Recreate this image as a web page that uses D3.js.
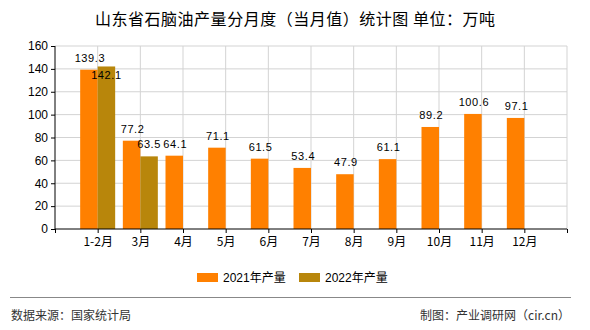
<!DOCTYPE html>
<html><head><meta charset="utf-8">
<script src="https://cdn.jsdelivr.net/npm/d3@7"></script>
<style>body{margin:0;background:#fff}svg{display:block}</style>
</head><body>
<script>
const categories = ["1-2月","3月","4月","5月","6月","7月","8月","9月","10月","11月","12月"];
const values2021 = [139.3,77.2,64.1,71.1,61.5,53.4,47.9,61.1,89.2,100.6,97.1];
const values2022 = [142.1,63.5,null,null,null,null,null,null,null,null,null];
const seriesNames = ["2021年产量","2022年产量"];
const yTicks = [0,20,40,60,80,100,120,140,160];
const colors = ["#FF8000","#B8860B"];

(function(){
const W=590,H=330;
const svg=d3.select("body").append("svg").attr("width",W).attr("height",H);
const pL=55,pR=567,pT=46,pB=229;
const x=d3.scaleLinear().domain([0,categories.length+1]).range([pL,pR]);
const y=d3.scaleLinear().domain([0,160]).range([pB,pT]);
const bw=17.5;
const grid="#d3d3d3";

svg.append("text").attr("x",95).attr("y",24.5).attr("font-family","'Noto Sans CJK SC',sans-serif")
  .attr("font-size",16).attr("fill","#000").attr("textLength",400).attr("lengthAdjust","spacing")
  .text("山东省石脑油产量分月度（当月值）统计图 单位：万吨");

svg.append("g").selectAll("line").data(yTicks.filter(d=>d>0)).join("line")
  .attr("x1",pL).attr("x2",pR).attr("y1",d=>y(d)).attr("y2",d=>y(d)).attr("stroke",grid);
svg.append("g").selectAll("line").data(d3.range(1,categories.length+2)).join("line")
  .attr("x1",d=>x(d)).attr("x2",d=>x(d)).attr("y1",pT).attr("y2",pB).attr("stroke",grid);

const g=svg.append("g");
categories.forEach((c,i)=>{
  const xc=x(i+1);
  const a=values2021[i], b=values2022[i];
  if(a!=null) g.append("rect").attr("x",xc-bw).attr("y",y(a)).attr("width",bw).attr("height",y(0)-y(a)).attr("fill",colors[0]);
  if(b!=null) g.append("rect").attr("x",xc).attr("y",y(b)).attr("width",bw).attr("height",y(0)-y(b)).attr("fill",colors[1]);
});

const yAxis=d3.axisLeft(y).tickValues(yTicks).tickSize(4).tickPadding(3);
const ya=svg.append("g").attr("transform",`translate(${pL},0)`).call(yAxis);
ya.select(".domain").attr("d",`M0,${pT}V${pB}`).attr("stroke","#000");
ya.selectAll("text").attr("font-family","'Liberation Sans',Arial,sans-serif").attr("font-size",12).attr("fill","#000");
ya.selectAll(".tick line").attr("stroke","#000");

const xAxis=d3.axisBottom(x).tickValues(d3.range(0,categories.length+2)).tickSize(4).tickPadding(4)
  .tickFormat(d=>(d>=1&&d<=categories.length)?categories[d-1]:"");
const xa=svg.append("g").attr("transform",`translate(0,${pB})`).call(xAxis);
xa.select(".domain").attr("d",`M${pL},0H${pR}`).attr("stroke","#000");
xa.selectAll(".tick line").attr("stroke","#000");
xa.selectAll("text").attr("font-family","'Noto Sans CJK SC',sans-serif").attr("font-size",12).attr("fill","#000");

const lab=svg.append("g").attr("font-family","'Liberation Sans',Arial,sans-serif").attr("font-size",11)
  .attr("fill","#000").attr("text-anchor","middle").attr("letter-spacing","0.6");
categories.forEach((c,i)=>{
  const xc=x(i+1);
  const a=values2021[i], b=values2022[i];
  let ay=null;
  if(a!=null){ay=y(a)-8; lab.append("text").attr("x",xc-bw/2+1).attr("y",ay).text(a.toFixed(1));}
  if(b!=null){
    let by=y(b)-8;
    if(ay!=null && Math.abs(by-ay)<12) by=y(b)+13;
    lab.append("text").attr("x",xc+bw/2).attr("y",by).text(b.toFixed(1));
  }
});

const lg=svg.append("g").attr("font-family","'Liberation Sans','Noto Sans CJK SC',sans-serif").attr("font-size",12);
const lx=[197,299];
seriesNames.forEach((n,i)=>{
  lg.append("rect").attr("x",lx[i]).attr("y",273).attr("width",21).attr("height",9).attr("fill",colors[i]);
  lg.append("text").attr("x",lx[i]+26).attr("y",282).attr("fill","#000").text(n);
});

svg.append("line").attr("x1",10).attr("x2",571).attr("y1",297.5).attr("y2",297.5).attr("stroke","#888");
svg.append("text").attr("x",11).attr("y",320).attr("font-family","'Noto Sans CJK SC',sans-serif").attr("font-size",12).attr("fill","#333").text("数据来源：国家统计局");
svg.append("text").attr("x",570).attr("y",320).attr("text-anchor","end").attr("font-family","'Noto Sans CJK SC',sans-serif").attr("font-size",12).attr("fill","#333").text("制图：产业调研网（cir.cn）");
})();
</script>
</body></html>
